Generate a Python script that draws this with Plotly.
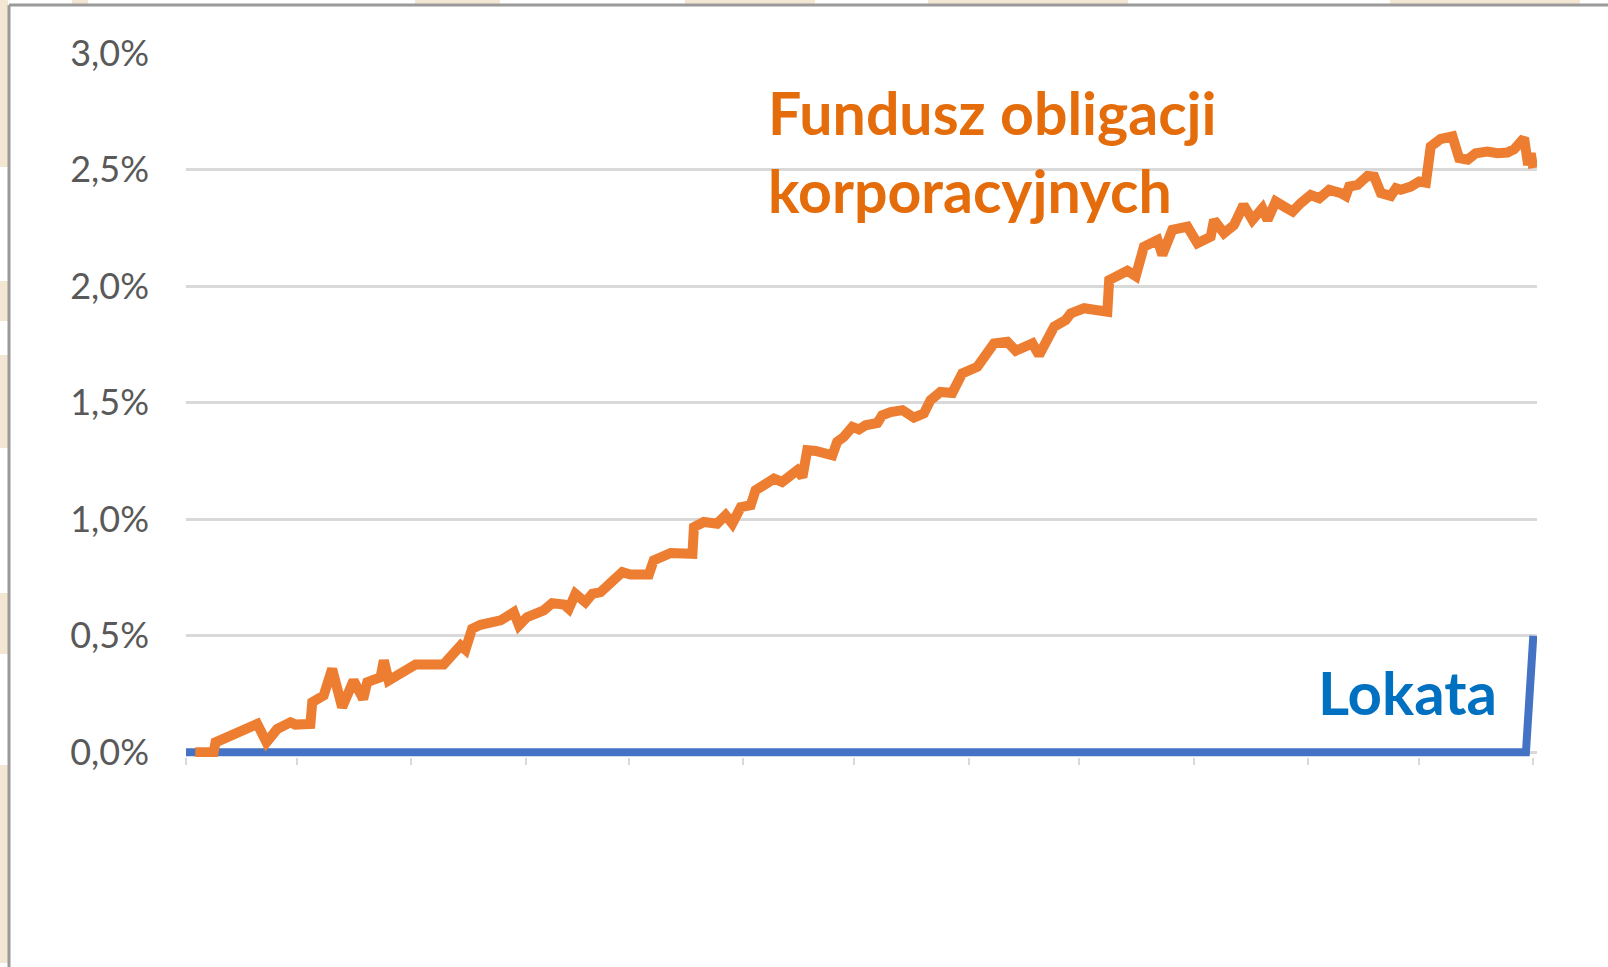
import pandas as pd
import plotly.graph_objects as go

# ---------------- data ----------------
START = "2020-11-01"
fund_days = [2.5, 7.5, 8.0, 19.3, 21.8, 24.7, 28.3, 29.6, 33.7, 34.2, 37.3, 39.6, 42.3, 45.4,
             48.0, 49.1, 52.7, 53.6, 54.9, 59.9, 62.2, 69.8, 71.7, 74.4, 75.7, 77.5, 79.8,
             83.4, 85.2, 88.8, 90.2, 92.4, 93.3, 96.9, 99.2, 102.4, 103.7, 105.5, 108.2,
             110.1, 112.3, 115.0, 118.2, 120.4, 125.4, 126.7, 129.5, 131.3, 137.2, 137.6,
             140.3, 143.9, 146.2, 148.0, 150.3, 153.0, 154.3, 156.6, 159.3, 161.5, 162.9,
             165.6, 167.0, 168.3, 170.6, 172.8, 175.1, 176.4, 178.2, 180.5, 182.3, 184.1,
             187.3, 188.6, 190.9, 194.1, 197.2, 199.9, 201.7, 204.4, 207.6, 210.3, 214.4,
             218.9, 222.5, 224.8, 229.3, 231.1, 235.2, 238.3, 239.7, 243.3, 246.9, 249.6,
             250.1, 252.3, 255.0, 257.3, 259.5, 263.2, 264.5, 267.2, 271.3, 274.0, 277.6,
             278.5, 281.2, 283.9, 286.5, 288.9, 291.6, 293.0, 295.2, 297.5, 299.8, 302.0,
             304.7, 307.0, 309.7, 312.9, 314.2, 315.1, 317.4, 320.1, 321.9, 323.7, 326.4,
             327.8, 329.1, 331.8, 334.1, 335.9, 337.2, 339.9, 343.1, 344.9, 347.2, 349.4,
             352.6, 355.3, 358.0, 359.8, 362.5, 363.6, 364.3, 365.0]
fund_values = [0.0, 0.0, 0.043, 0.122, 0.043, 0.10, 0.129, 0.119, 0.122, 0.215, 0.244, 0.358,
               0.193, 0.308, 0.229, 0.301, 0.322, 0.394, 0.308, 0.351, 0.377, 0.377, 0.415,
               0.458, 0.44, 0.53, 0.547, 0.554, 0.566, 0.601, 0.544, 0.58, 0.587, 0.609,
               0.64, 0.634, 0.616, 0.68, 0.644, 0.68, 0.687, 0.723, 0.773, 0.763, 0.763,
               0.823, 0.845, 0.855, 0.852, 0.966, 0.988, 0.981, 1.017, 0.981, 1.052, 1.06,
               1.124, 1.146, 1.174, 1.16, 1.181, 1.21, 1.181, 1.296, 1.293, 1.279, 1.274,
               1.332, 1.353, 1.396, 1.385, 1.403, 1.413, 1.446, 1.46, 1.468, 1.436, 1.454,
               1.511, 1.546, 1.542, 1.626, 1.654, 1.754, 1.761, 1.723, 1.754, 1.704, 1.826,
               1.854, 1.883, 1.905, 1.90, 1.89, 2.026, 2.048, 2.066, 2.043, 2.169, 2.198,
               2.134, 2.241, 2.255, 2.184, 2.212, 2.284, 2.227, 2.262, 2.348, 2.284, 2.334,
               2.284, 2.363, 2.341, 2.32, 2.356, 2.391, 2.377, 2.413, 2.399, 2.387, 2.427,
               2.434, 2.473, 2.47, 2.399, 2.387, 2.42, 2.413, 2.427, 2.449, 2.444, 2.599,
               2.631, 2.642, 2.549, 2.542, 2.57, 2.577, 2.57, 2.573, 2.587, 2.635, 2.52,
               2.57, 2.506]
deposit_days = [0.0, 363.0, 365.0]
deposit_values = [0.0, 0.0, 0.5]

fund_label_lines = ["Fundusz obligacji", "korporacyjnych"]
deposit_label = "Lokata"

start = pd.Timestamp(START)
fund_x = start + pd.to_timedelta(fund_days, unit="D")
dep_x = start + pd.to_timedelta(deposit_days, unit="D")

# ---------------- layout geometry ----------------
W, H = 1608, 967
ML, MR, MT, MB = 186, 71, 53, 210
PW, PH = W - ML - MR, H - MT - MB


def px(x):
    return (x - ML) / PW


def py(y):
    return (H - MB - y) / PH


fig = go.Figure()
fig.add_trace(go.Scatter(x=dep_x, y=deposit_values, mode="lines",
                         line=dict(color="#4472C4", width=8), hoverinfo="skip"))
fig.add_trace(go.Scatter(x=fund_x, y=fund_values, mode="lines",
                         line=dict(color="#ED7D31", width=10), hoverinfo="skip"))

annotations = [
    dict(text="<b>%s</b>" % fund_label_lines[0], x=px(766), y=py(112), xanchor="left",
         yanchor="middle", font=dict(family="Lato", size=59, color="#E46C0A")),
    dict(text="<b>%s</b>" % fund_label_lines[1], x=px(766), y=py(190), xanchor="left",
         yanchor="middle", font=dict(family="Lato", size=59, color="#E46C0A")),
    dict(text="<b>%s</b>" % deposit_label, x=px(1316), y=py(692), xanchor="left",
         yanchor="middle", font=dict(family="Lato", size=60, color="#0070C0")),
]
for a in annotations:
    a.update(xref="paper", yref="paper", showarrow=False)

shapes = []
beige = "#F3E7D3"
for x0, x1 in [(72, 88), (415, 500), (685, 815), (928, 1128), (1390, 1580)]:
    shapes.append(dict(type="rect", xref="paper", yref="paper", x0=px(x0), x1=px(x1),
                       y0=py(4), y1=py(0), fillcolor=beige, line=dict(width=0), layer="below"))
for y0, y1 in [(0, 167), (281, 321), (355, 448), (593, 654), (765, 963)]:
    shapes.append(dict(type="rect", xref="paper", yref="paper", x0=px(0), x1=px(8),
                       y0=py(y1), y1=py(y0), fillcolor=beige, line=dict(width=0), layer="below"))
shapes.append(dict(type="line", xref="paper", yref="paper", x0=px(9), x1=px(9),
                   y0=py(H), y1=py(5), line=dict(color="#9A9A9A", width=3)))
shapes.append(dict(type="line", xref="paper", yref="paper", x0=px(9), x1=px(W),
                   y0=py(5), y1=py(5), line=dict(color="#9A9A9A", width=3)))

fig.update_layout(
    width=W, height=H, autosize=False,
    margin=dict(l=ML, r=MR, t=MT, b=MB),
    paper_bgcolor="white", plot_bgcolor="white",
    showlegend=False, separators=", ",
    annotations=annotations, shapes=shapes,
    xaxis=dict(type="date", range=[start, start + pd.Timedelta(days=366)],
               tick0=START, dtick="M1", ticks="outside", ticklen=7, tickwidth=2,
               tickcolor="#D9D9D9", showticklabels=False, showgrid=False,
               zeroline=False, showline=False, fixedrange=True),
    yaxis=dict(range=[-0.02, 3.0], dtick=0.5, tick0=0, tickformat=".1f", ticksuffix="%",
               showgrid=True, gridcolor="#D9D9D9", gridwidth=3, zeroline=False,
               showline=False, ticks="", ticklabelstandoff=36,
               tickfont=dict(family="Lato", size=36, color="#595959"), fixedrange=True),
)

fig.write_html("out.html", config={"displayModeBar": False},
               post_script="document.body.style.margin='0';document.body.style.overflow='hidden';")
